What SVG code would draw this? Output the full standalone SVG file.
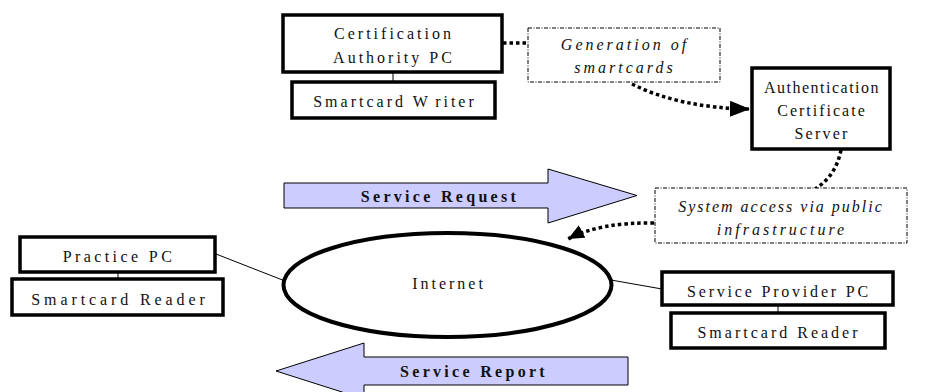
<svg xmlns="http://www.w3.org/2000/svg" width="932" height="392" viewBox="0 0 932 392">
<style>
.box{fill:#fff;stroke:#000;stroke-width:3.5}
.note{fill:#fff;stroke:#000;stroke-width:1;stroke-dasharray:4 1.5 1 1.5}
.t{font-family:"Liberation Serif",serif;font-size:16px;letter-spacing:3px;text-anchor:middle;fill:#111}
.i{font-style:italic}
.b{font-weight:bold}
.dot{fill:none;stroke:#000;stroke-width:3.5;stroke-dasharray:3.5 3}
.thin{stroke:#000;stroke-width:1;fill:none}
.arrow{fill:#ccccff;stroke:#000;stroke-width:1}
</style>
<defs>
<marker id="ah" markerUnits="userSpaceOnUse" markerWidth="22" markerHeight="16" refX="20" refY="8" orient="auto">
<path d="M0,0 L20,8 L0,16 Z" fill="#000"/>
</marker>
<marker id="ah2" markerUnits="userSpaceOnUse" markerWidth="18" markerHeight="14" refX="16" refY="7" orient="auto">
<path d="M0,0 L16,7 L0,14 Z" fill="#000"/>
</marker>
</defs>

<g id="connectors">
<line class="thin" x1="393" y1="72" x2="393" y2="82"/>
<line class="thin" x1="118" y1="272" x2="118" y2="279"/>
<line class="thin" x1="778" y1="305" x2="778" y2="313"/>
<line class="thin" x1="216" y1="254" x2="285" y2="281"/>
<line class="thin" x1="611" y1="280" x2="662" y2="289"/>
<path class="dot" d="M503,43 L528,43"/>
<path class="dot" d="M632,84 Q680,108 750,109" marker-end="url(#ah)"/>
<path class="dot" d="M841,150 Q836,176 815,189"/>
<path class="dot" d="M654,223 Q600,222 568,239" marker-end="url(#ah2)"/>
</g>

<g id="service-request">
<path class="arrow" d="M284,183 L548,183 L548,169 L637,195.5 L548,223 L548,208 L284,208 Z"/>
<text class="t b" x="440" y="202" style="letter-spacing:3.3px">Service Request</text>
</g>

<g id="service-report">
<path class="arrow" d="M628,357 L364,357 L364,343 L276,371 L364,399 L364,385 L628,385 Z"/>
<text class="t b" x="474" y="377" style="letter-spacing:3.3px">Service Report</text>
</g>

<g id="ca-pc">
<rect class="box" x="283" y="15" width="219" height="57"/>
<text class="t" x="394" y="39">Certification</text>
<text class="t" x="394" y="63">Authority PC</text>
</g>

<g id="smartcard-writer">
<rect class="box" x="292" y="82" width="203" height="36"/>
<text class="t" x="395" y="107">Smartcard W<tspan dx="5">riter</tspan></text>
</g>

<g id="generation">
<rect class="note" x="528" y="28" width="192" height="54"/>
<text class="t i" x="625" y="50">Generation of</text>
<text class="t i" x="625" y="73">smartcards</text>
</g>

<g id="auth-server">
<rect class="box" x="752" y="68" width="138" height="81"/>
<text class="t" x="822" y="93" style="letter-spacing:1.5px">Authentication</text>
<text class="t" x="822" y="116" style="letter-spacing:2px">Certificate</text>
<text class="t" x="822" y="139" style="letter-spacing:2.2px">Server</text>
</g>

<g id="system-access">
<rect class="note" x="655" y="188" width="252" height="55"/>
<text class="t i" x="781" y="212" style="letter-spacing:2px">System access via public</text>
<text class="t i" x="782" y="235">infrastructure</text>
</g>

<g id="internet">
<ellipse cx="447.5" cy="285" rx="164" ry="52" fill="#fff" stroke="#000" stroke-width="4"/>
<text class="t" x="449" y="289">Internet</text>
</g>

<g id="practice-pc">
<rect class="box" x="20" y="237" width="195" height="35"/>
<text class="t" x="119" y="262" style="letter-spacing:3.4px">Practice PC</text>
</g>

<g id="smartcard-reader-left">
<rect class="box" x="12" y="279" width="211" height="36"/>
<text class="t" x="120" y="305" style="letter-spacing:3.9px">Smartcard Reader</text>
</g>

<g id="service-provider-pc">
<rect class="box" x="662" y="272" width="231" height="33"/>
<text class="t" x="779" y="297" style="letter-spacing:2.8px">Service Provider PC</text>
</g>

<g id="smartcard-reader-right">
<rect class="box" x="671" y="313" width="214" height="35"/>
<text class="t" x="779" y="338">Smartcard Reader</text>
</g>
</svg>
